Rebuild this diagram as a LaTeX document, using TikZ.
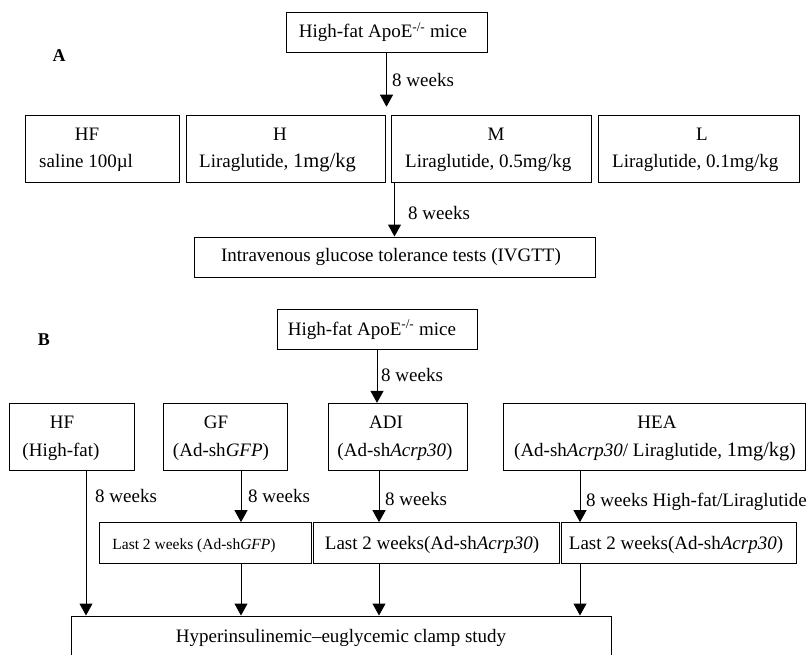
\documentclass[tikz,border=0pt]{standalone}
\usepackage{fontspec}
\setmainfont{Liberation Serif}
\usetikzlibrary{arrows.meta}
\newcommand{\bigdose}[1]{{\fontsize{20.5}{21}\selectfont #1}}
\tikzset{
 frame/.style={draw, line width=1pt, inner sep=0pt},
 txt/.style={inner sep=0pt, font=\fontsize{19}{21}\selectfont, text height=13pt, text depth=4pt},
 smalltxt/.style={inner sep=0pt, font=\fontsize{15.5}{17}\selectfont, text height=11pt, text depth=3pt},
 lbl/.style={txt, anchor=west},
 panel/.style={inner sep=0pt, font=\bfseries\fontsize{18}{20}\selectfont},
 flow/.style={line width=1pt, -{Triangle[length=12pt,width=13pt]}},
}
\begin{document}
\begin{tikzpicture}[x=1pt,y=-1pt]
\clip (0,0) rectangle (806,654);
% ---------- Panel A ----------
\node[panel] (labA) at (59,55.7) {A};
\node[frame,minimum width=201pt,minimum height=40pt] (topA) at (386.5,32.3) {};
\node[txt] (topAt) at (383,33.3) {High-fat ApoE\textsuperscript{-/-} mice};

\node[frame,minimum width=154pt,minimum height=67pt] (hfA) at (102,148.5) {};
\node[frame,minimum width=199pt,minimum height=67pt] (hA) at (285.5,148.5) {};
\node[frame,minimum width=200pt,minimum height=67pt] (mA) at (491,148.5) {};
\node[frame,minimum width=201pt,minimum height=67pt] (lA) at (698.5,148.5) {};
\node[txt] (hfA1) at (87,136) {HF};
\node[lbl] (hfA2) at (39,163.3) {saline 100µl};
\node[txt] (hA1) at (280,136) {H};
\node[lbl] (hA2) at (199,163.3) {Liraglutide, \bigdose{1mg/kg}};
\node[txt] (mA1) at (496,136) {M};
\node[lbl] (mA2) at (405,163.3) {Liraglutide, 0.5mg/kg};
\node[txt] (lA1) at (702,136) {L};
\node[lbl] (lA2) at (612,163.3) {Liraglutide, 0.1mg/kg};

\coordinate (a1end) at (386.5,106.7);
\draw[flow] (topA.south) -- (a1end);
\node[lbl] (wA1) at (392,81.7) {8 weeks};

\node[frame,minimum width=401pt,minimum height=40pt] (ivgtt) at (394.5,257) {};
\node[txt] (ivgttt) at (391,256.7) {Intravenous glucose tolerance tests (IVGTT)};
\draw[flow] (mA.south -| ivgtt.north) -- (ivgtt.north);
\node[lbl] (wA2) at (408,215) {8 weeks};

% ---------- Panel B ----------
\node[panel] (labB) at (44,339.3) {B};
\node[frame,minimum width=200pt,minimum height=40pt] (topB) at (377,329.3) {};
\node[txt] (topBt) at (372,330.7) {High-fat ApoE\textsuperscript{-/-} mice};

\node[frame,minimum width=125pt,minimum height=66.7pt] (hfB) at (71.5,436.7) {};
\node[frame,minimum width=124pt,minimum height=66.7pt] (gfB) at (225,436.7) {};
\node[frame,minimum width=139pt,minimum height=66.7pt] (adiB) at (397.5,436.7) {};
\node[frame,minimum width=302pt,minimum height=66.7pt] (heaB) at (654,436.7) {};
\node[txt] (hfB1) at (62,424) {HF};
\node[txt] (hfB2) at (61,451.7) {(High-fat)};
\node[txt] (gfB1) at (216,424) {GF};
\node[txt] (gfB2) at (221,451.7) {(Ad-sh\textit{GFP})};
\node[txt] (adiB1) at (386,424) {ADI};
\node[txt] (adiB2) at (395,451.7) {(Ad-sh\textit{Acrp30})};
\node[txt] (heaB1) at (657,424) {HEA};
\node[txt] (heaB2) at (655,451.7) {(Ad-sh\textit{Acrp30}/ Liraglutide, \bigdose{1mg/kg})};

\draw[flow] (topB.south) -- (topB.south |- adiB.north);
\node[lbl] (wB0) at (381,377.3) {8 weeks};

\node[frame,minimum width=212pt,minimum height=40.7pt] (lgf) at (205,543) {};
\node[frame,minimum width=246pt,minimum height=40.7pt] (ladi) at (436,543) {};
\node[frame,minimum width=235pt,minimum height=40.7pt] (lhea) at (678.5,543) {};
\node[smalltxt] (lgft) at (194,545) {Last 2 weeks (Ad-sh\textit{GFP})};
\node[txt] (ladit) at (432,545) {Last 2 weeks(Ad-sh\textit{Acrp30})};
\node[txt] (lheat) at (676,545) {Last 2 weeks(Ad-sh\textit{Acrp30})};

\node[frame,minimum width=540pt,minimum height=60pt] (clamp) at (341,646) {};
\node[txt] (clampt) at (341,638.3) {Hyperinsulinemic–euglycemic clamp study};

\coordinate (xhf) at (86,0);
\coordinate (xgf) at (241,0);
\coordinate (xadi) at (379,0);
\coordinate (xhea) at (580,0);

\draw[flow] (hfB.south -| xhf) -- (clamp.north -| xhf);
\node[lbl] (wB1) at (95,498.3) {8 weeks};
\draw[flow] (gfB.south -| xgf) -- (lgf.north -| xgf);
\node[lbl] (wB2) at (248,497.7) {8 weeks};
\draw[flow] (adiB.south -| xadi) -- (ladi.north -| xadi);
\node[lbl] (wB3) at (385,501) {8 weeks};
\draw[flow] (heaB.south -| xhea) -- (lhea.north -| xhea);
\node[lbl] (wB4) at (586,502.3) {8 weeks High-fat/Liraglutide};

\draw[flow] (lgf.south -| xgf) -- (clamp.north -| xgf);
\draw[flow] (ladi.south -| xadi) -- (clamp.north -| xadi);
\draw[flow] (lhea.south -| xhea) -- (clamp.north -| xhea);
\end{tikzpicture}
\end{document}
